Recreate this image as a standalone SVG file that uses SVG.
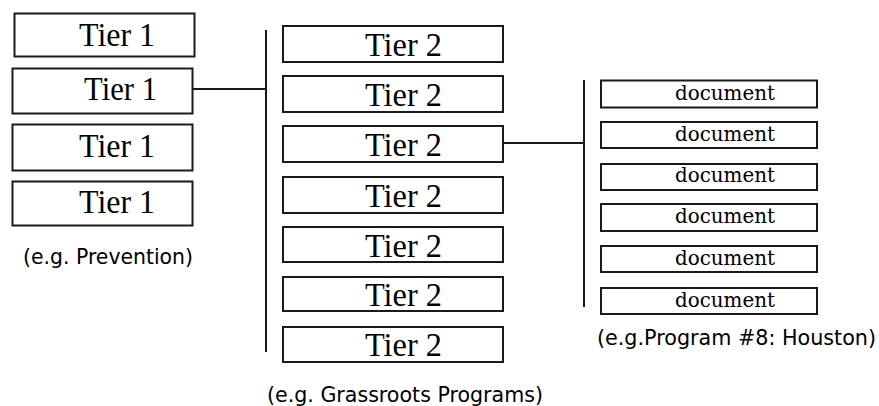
<svg xmlns="http://www.w3.org/2000/svg" width="879" height="406" viewBox="0 0 879 406">
  <style>
    .box { fill: #ffffff; stroke: #1a1a1a; stroke-width: 2; }
    .wire { stroke: #1a1a1a; stroke-width: 2; fill: none; }
    .tier { font-family: "Liberation Serif", "Times New Roman", serif; font-size: 33px; fill: #000; }
    .doc { font-family: "DejaVu Serif", "Liberation Serif", serif; font-size: 21px; fill: #000; }
    .cap { font-family: "DejaVu Sans", "Liberation Sans", sans-serif; font-size: 21px; fill: #000; }
  </style>
  <rect width="879" height="406" fill="#ffffff"/>

  <!-- connectors -->
  <g id="connectors">
    <line class="wire" x1="193" y1="89" x2="266" y2="89"/>
    <line class="wire" x1="266" y1="30" x2="266" y2="352"/>
    <line class="wire" x1="503" y1="143" x2="584" y2="143"/>
    <line class="wire" x1="584" y1="80" x2="584" y2="307"/>
  </g>

  <!-- first tier -->
  <g id="tier1-a"><rect class="box" x="14.5" y="13.5" width="180" height="43"/><text class="tier" x="79" y="46" textLength="76" lengthAdjust="spacingAndGlyphs">Tier 1</text></g>
  <g id="tier1-b"><rect class="box" x="12.5" y="68.5" width="180" height="45"/><text class="tier" x="84" y="100" textLength="73" lengthAdjust="spacingAndGlyphs">Tier 1</text></g>
  <g id="tier1-c"><rect class="box" x="12.5" y="124.5" width="180" height="46"/><text class="tier" x="79" y="156.5" textLength="76" lengthAdjust="spacingAndGlyphs">Tier 1</text></g>
  <g id="tier1-d"><rect class="box" x="12.5" y="181.5" width="180" height="44"/><text class="tier" x="79" y="213" textLength="76" lengthAdjust="spacingAndGlyphs">Tier 1</text></g>
  <g id="caption-tier1"><text class="cap" x="23" y="264" textLength="170" lengthAdjust="spacingAndGlyphs">(e.g. Prevention)</text></g>

  <!-- second tier -->
  <g id="tier2-a"><rect class="box" x="283" y="26" width="220" height="36"/><text class="tier" x="365" y="56" textLength="77" lengthAdjust="spacingAndGlyphs">Tier 2</text></g>
  <g id="tier2-b"><rect class="box" x="283" y="76" width="220" height="36"/><text class="tier" x="365" y="106" textLength="77" lengthAdjust="spacingAndGlyphs">Tier 2</text></g>
  <g id="tier2-c"><rect class="box" x="283" y="126" width="220" height="36"/><text class="tier" x="365" y="156" textLength="77" lengthAdjust="spacingAndGlyphs">Tier 2</text></g>
  <g id="tier2-d"><rect class="box" x="283" y="177" width="220" height="36"/><text class="tier" x="365" y="207" textLength="77" lengthAdjust="spacingAndGlyphs">Tier 2</text></g>
  <g id="tier2-e"><rect class="box" x="283" y="227" width="220" height="35"/><text class="tier" x="365" y="257" textLength="77" lengthAdjust="spacingAndGlyphs">Tier 2</text></g>
  <g id="tier2-f"><rect class="box" x="283" y="277" width="220" height="34"/><text class="tier" x="365" y="306" textLength="77" lengthAdjust="spacingAndGlyphs">Tier 2</text></g>
  <g id="tier2-g"><rect class="box" x="283" y="327" width="220" height="35"/><text class="tier" x="365" y="356" textLength="77" lengthAdjust="spacingAndGlyphs">Tier 2</text></g>
  <g id="caption-tier2"><text class="cap" x="267" y="402" textLength="276" lengthAdjust="spacingAndGlyphs">(e.g. Grassroots Programs)</text></g>

  <!-- documents -->
  <g id="doc-1"><rect class="box" x="601" y="80.5" width="216" height="27"/><text class="doc" x="675" y="100" textLength="100" lengthAdjust="spacingAndGlyphs">document</text></g>
  <g id="doc-2"><rect class="box" x="601" y="122" width="216" height="26"/><text class="doc" x="675" y="141" textLength="100" lengthAdjust="spacingAndGlyphs">document</text></g>
  <g id="doc-3"><rect class="box" x="601" y="164" width="216" height="26"/><text class="doc" x="675" y="182" textLength="100" lengthAdjust="spacingAndGlyphs">document</text></g>
  <g id="doc-4"><rect class="box" x="601" y="204" width="216" height="27"/><text class="doc" x="675" y="223" textLength="100" lengthAdjust="spacingAndGlyphs">document</text></g>
  <g id="doc-5"><rect class="box" x="601" y="246" width="216" height="26"/><text class="doc" x="675" y="265" textLength="100" lengthAdjust="spacingAndGlyphs">document</text></g>
  <g id="doc-6"><rect class="box" x="601" y="288" width="216" height="26"/><text class="doc" x="675" y="307" textLength="100" lengthAdjust="spacingAndGlyphs">document</text></g>
  <g id="caption-docs"><text class="cap" x="597" y="345" textLength="279" lengthAdjust="spacingAndGlyphs">(e.g.Program #8: Houston)</text></g>
</svg>
